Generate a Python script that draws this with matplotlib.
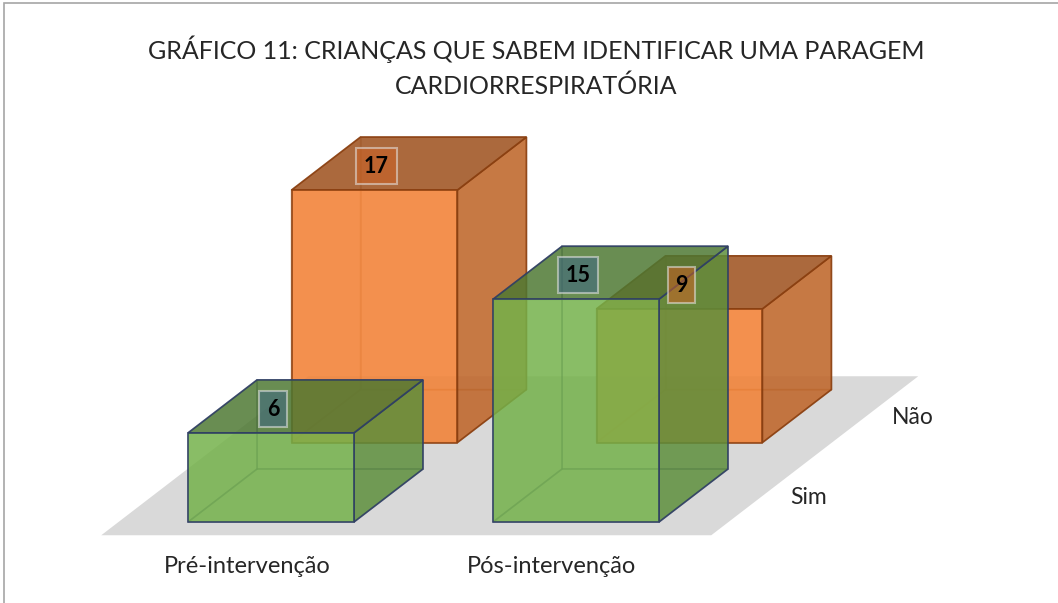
import matplotlib
matplotlib.use('Agg')
import matplotlib.pyplot as plt
from matplotlib.patches import Polygon, Rectangle

# data
categories = ['Pré-intervenção', 'Pós-intervenção']
series = ['Sim', 'Não']
sim_values = [6, 15]
nao_values = [17, 9]
title = 'GRÁFICO 11: CRIANÇAS QUE SABEM IDENTIFICAR UMA PARAGEM\nCARDIORRESPIRATÓRIA'

# oblique projection (pixels of the figure)
X0, Y0 = 271, 522       # front of first row, centre of first category, baseline
CAT_W = 305             # pixels per category
DX, DY = 69, 53         # one depth unit
VS = 14.85              # pixels per value unit
HW = 0.272              # half bar width, in categories
ROW_FRONT = [0.0, 1.5]  # depth where each series row starts
BAR_D = 1.0

colors = {
    'Sim': dict(face=(0.44, 0.68, 0.28), edge='#2F3E64', alpha=0.78, lab=(0.24, 0.40, 0.52)),
    'Não': dict(face=(0.92, 0.50, 0.22), edge='#8A3F10', alpha=0.85, lab=(0.80, 0.38, 0.14)),
}


def proj(x, d, z):
    return (X0 + x * CAT_W + d * DX, Y0 - z * VS - d * DY)


def shade(c, f):
    return tuple(min(1, v * f) for v in c)


def draw_box(ax, xc, d0, v, st):
    x0, x1 = xc - HW, xc + HW
    d1 = d0 + BAR_D
    P = proj
    faces = [
        # hidden faces first
        ([P(x0, d1, 0), P(x1, d1, 0), P(x1, d1, v), P(x0, d1, v)], 0.85),   # back
        ([P(x0, d0, 0), P(x0, d1, 0), P(x0, d1, v), P(x0, d0, v)], 0.85),   # left
        ([P(x0, d0, 0), P(x1, d0, 0), P(x1, d1, 0), P(x0, d1, 0)], 0.85),   # bottom
        # visible
        ([P(x1, d0, 0), P(x1, d1, 0), P(x1, d1, v), P(x1, d0, v)], 0.82),   # right
        ([P(x0, d0, v), P(x1, d0, v), P(x1, d1, v), P(x0, d1, v)], 0.68),   # top
        ([P(x0, d0, 0), P(x1, d0, 0), P(x1, d0, v), P(x0, d0, v)], 1.04),   # front
    ]
    for i, (pts, f) in enumerate(faces):
        a = st['alpha'] * (0.35 if i < 3 else 1.0)
        ax.add_patch(Polygon(pts, closed=True, facecolor=shade(st['face'], f),
                             edgecolor='none', alpha=a))
        ax.add_patch(Polygon(pts, closed=True, facecolor='none',
                             edgecolor=st['edge'], linewidth=1.2, alpha=0.9 if i >= 3 else 0.35))


fig = plt.figure(figsize=(10.58, 6.03), dpi=100)
ax = fig.add_axes([0, 0, 1, 1])
ax.set_xlim(0, 1058)
ax.set_ylim(603, 0)
ax.axis('off')

# chart border
fig.patches.append(Rectangle((4 / 1058, -0.1), 1.2, (603 - 3) / 603 + 0.1, transform=fig.transFigure,
                             fill=False, edgecolor='#A6A6A6', linewidth=1.2))

# floor
fl = [proj(-0.5, -0.25, 0), proj(1.5, -0.25, 0), proj(1.5, 2.75, 0), proj(-0.5, 2.75, 0)]
ax.add_patch(Polygon(fl, closed=True, facecolor='#D9D9D9', edgecolor='none'))

# back row first
rows = [('Não', nao_values, ROW_FRONT[1]), ('Sim', sim_values, ROW_FRONT[0])]
labels = []
for name, vals, d0 in rows:
    for i, v in enumerate(vals):
        draw_box(ax, i, d0, v, colors[name])
        lx, _ = proj(i, d0, v)
        _, ly = proj(i, d0 + 0.45, v)
        labels.append((lx + 2, ly, v, colors[name]['lab']))

for lx, ly, v, c in labels:
    ax.text(lx, ly, str(v), ha='center', va='center', fontsize=15.5, fontweight='bold',
            family='Lato', color='black',
            bbox=dict(boxstyle='square,pad=0.35', facecolor=c, alpha=0.55,
                      edgecolor='#E6E6E6', linewidth=1.5))

# category labels
for i, cat in enumerate(categories):
    x, y = proj(i, -0.25, 0)
    ax.text(x - 7, y + 31, cat, ha='center', va='center', fontsize=17, family='Lato', color='#262626')

# series labels
for name, d0 in zip(series, ROW_FRONT):
    x, y = proj(1.5, d0 + 0.5, 0)
    ax.text(x + 46, y + 2, name, ha='center', va='center', fontsize=16.5, family='Lato', color='#262626')

ax.text(536, 67, title, ha='center', va='center', fontsize=18, family='Lato',
        color='#262626', linespacing=1.6)

fig.savefig('out.png', dpi=100)
